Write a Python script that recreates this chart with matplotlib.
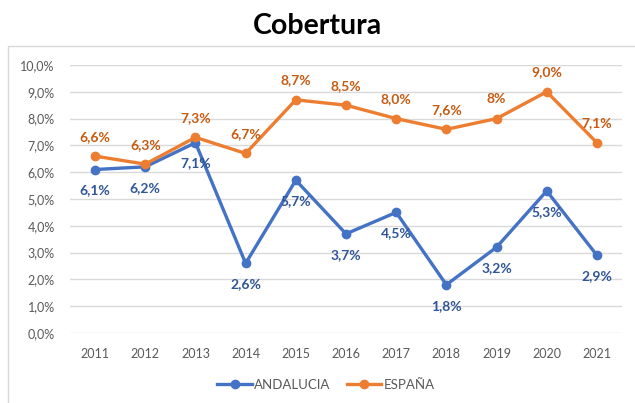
import matplotlib
matplotlib.use('Agg')
import matplotlib.pyplot as plt
from matplotlib.patches import Rectangle

years = ['2011', '2012', '2013', '2014', '2015', '2016', '2017', '2018', '2019', '2020', '2021']
andalucia = [6.1, 6.2, 7.1, 2.6, 5.7, 3.7, 4.5, 1.8, 3.2, 5.3, 2.9]
espana = [6.6, 6.3, 7.3, 6.7, 8.7, 8.5, 8.0, 7.6, 8.0, 9.0, 7.1]
espana_labels = ['6,6%', '6,3%', '7,3%', '6,7%', '8,7%', '8,5%', '8,0%', '7,6%', '8%', '9,0%', '7,1%']
yticks = [0, 1, 2, 3, 4, 5, 6, 7, 8, 9, 10]

plt.rcParams['font.family'] = ['Lato', 'DejaVu Sans']

blue, orange = '#4472C4', '#ED7D31'
blue_txt, orange_txt = '#2F5597', '#C55A11'
grey = '#595959'

fig = plt.figure(figsize=(6.35, 4.03), dpi=100)
fig.patches.append(Rectangle((8 / 635, -0.1), 1.0, 1.1 - 46 / 403, transform=fig.transFigure,
                             fill=False, edgecolor='#D9D9D9', lw=1))
ax = fig.add_axes([70 / 635, 1 - 333 / 403, 552 / 635, 268 / 403])

x = list(range(len(years)))
ax.plot(x, andalucia, color=blue, lw=2.4, marker='o', ms=6, label='ANDALUCIA', zorder=3)
ax.plot(x, espana, color=orange, lw=2.4, marker='o', ms=6, label='ESPAÑA', zorder=3)

for i, v in enumerate(andalucia):
    ax.annotate(f'{v:.1f}%'.replace('.', ','), (i, v), xytext=(0, -15), textcoords='offset points',
                ha='center', va='center', fontsize=10, fontweight='bold', color=blue_txt, zorder=4)
for i, v in enumerate(espana):
    ax.annotate(espana_labels[i], (i, v), xytext=(0, 14), textcoords='offset points',
                ha='center', va='center', fontsize=10, fontweight='bold', color=orange_txt, zorder=4)

ax.set_xlim(-0.5, len(years) - 0.5)
ax.set_ylim(0, 10)
ax.set_xticks(x)
ax.set_xticklabels(years)
ax.set_yticks(yticks)
ax.set_yticklabels([f'{t:.1f}%'.replace('.', ',') for t in yticks])
ax.tick_params(length=0, labelsize=9, labelcolor=grey)
ax.tick_params(axis='x', pad=11)
ax.tick_params(axis='y', pad=11)
ax.grid(axis='y', color='#D9D9D9', lw=1)
ax.set_axisbelow(True)
for s in ax.spines.values():
    s.set_visible(False)

fig.text(0.5, 1 - 26 / 403, 'Cobertura', ha='center', va='center', fontsize=20.5, fontweight='bold')

fig.legend(loc='center', bbox_to_anchor=(326 / 635, 1 - 385 / 403), ncol=2, frameon=False,
           fontsize=9.5, labelcolor=grey, handlelength=2.6, columnspacing=1.2, handletextpad=0.2)

fig.savefig('out.png', dpi=100)
